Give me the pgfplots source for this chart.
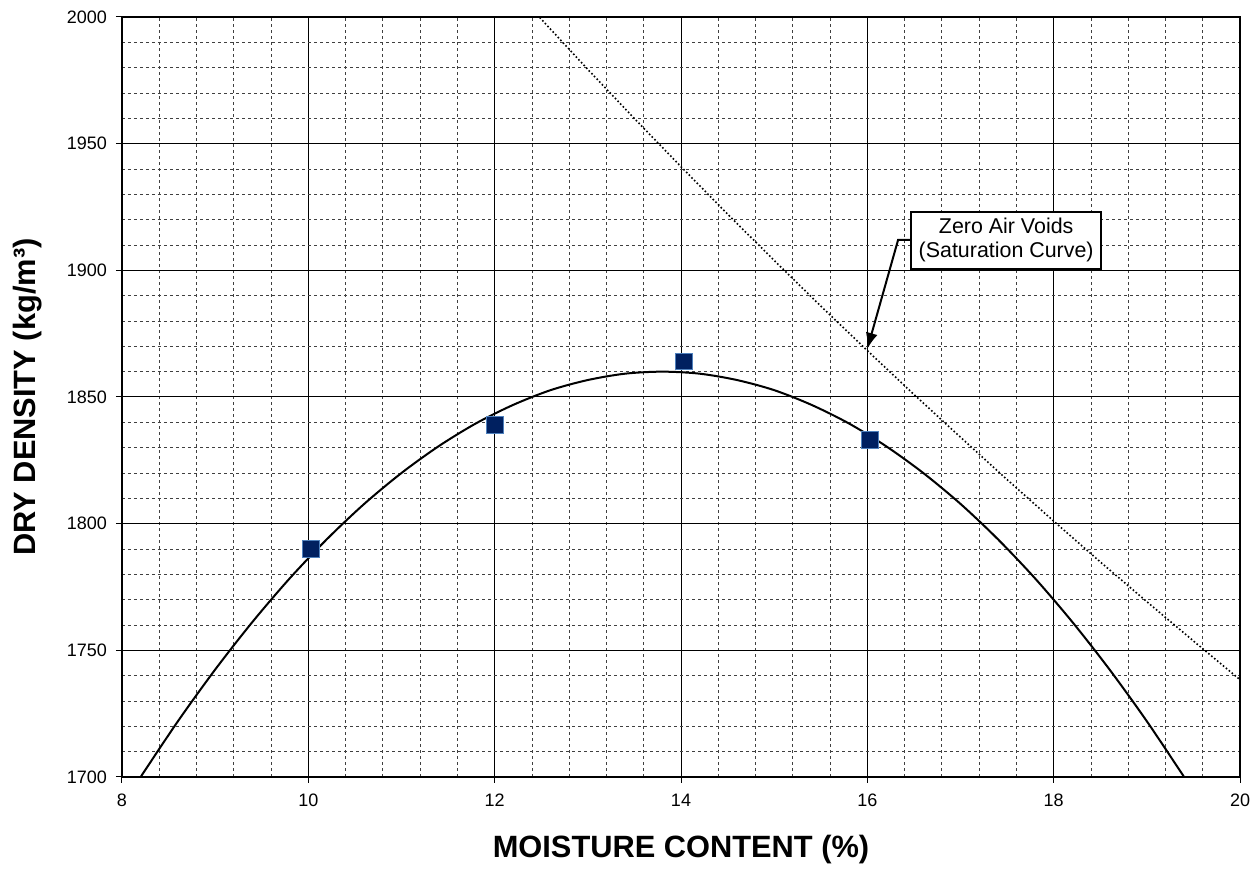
\documentclass[border=0pt]{standalone}
\usepackage{fontspec}
\setmainfont{Liberation Sans}
\usepackage{pgfplots}
\pgfplotsset{compat=1.18}
\usetikzlibrary{arrows.meta}
\definecolor{mfill}{RGB}{0,32,96}
\definecolor{medge}{RGB}{79,129,189}
\begin{document}
\begin{tikzpicture}
\useasboundingbox (-61pt,-54.5pt) rectangle (567pt,388.5pt);
\begin{axis}[
  at={(0,0)}, anchor=south west,
  scale only axis, width=559pt, height=380pt,
  xmin=8, xmax=20, ymin=1700, ymax=2000,
  xtick={8,10,...,20}, ytick={1700,1750,...,2000},
  minor x tick num=4, minor y tick num=4,
  grid=both,
  major grid style={black, line width=0.5pt},
  minor grid style={black!75, line width=0.4pt, dash pattern=on 1.5pt off 1.5pt},
  axis line style={black, line width=0.75pt},
  tick pos=left, tick align=outside,
  major tick length=3pt, minor tick length=0pt,
  tick style={black, line width=0.5pt},
  /pgf/number format/assume math mode=true,
  /pgf/number format/1000 sep={},
  ticklabel style={font=\fontsize{9}{10}\selectfont},
  xticklabel style={yshift=-2pt},
  yticklabel style={xshift=-1pt},
  xlabel={MOISTURE CONTENT (\%)},
  ylabel={DRY DENSITY (kg/m³)},
  label style={font=\fontsize{15.4}{18}\selectfont\bfseries},
  xlabel style={at={(axis description cs:0.5,0)}, anchor=center, yshift=-36.5pt},
  ylabel style={at={(axis description cs:0,0.5)}, anchor=center, yshift=47pt},
]
% zero air voids curve
\addplot[black, line width=0.8pt, dash pattern=on 0.8pt off 1.1pt] coordinates {
 (12.4,2003.1) (13.0,1979.3) (13.5,1959.9) (14.0,1940.9) (14.5,1922.2)
 (15.0,1903.9) (15.5,1885.9) (16.0,1868.3) (16.5,1851.0) (17.0,1834.1)
 (17.5,1817.4) (18.0,1801.0) (18.5,1784.9) (19.0,1769.2) (19.5,1753.7) (20.0,1738.4)
};
% fitted curve
\addplot[black, line width=1pt, smooth] coordinates {
 (8.2,1700.0) (8.6,1722.0) (9.0,1742.4) (9.4,1761.2) (9.8,1778.4)
 (10.2,1793.9) (10.6,1807.8) (11.0,1820.0) (11.4,1830.6) (11.8,1839.6)
 (12.2,1846.9) (12.6,1852.7) (13.0,1856.7) (13.4,1859.2) (13.8,1860.0)
 (14.2,1859.2) (14.6,1856.7) (15.0,1852.7) (15.4,1846.9) (15.8,1839.6)
 (16.2,1830.6) (16.6,1820.0) (17.0,1807.8) (17.4,1793.9) (17.8,1778.4)
 (18.2,1761.2) (18.6,1742.4) (19.0,1722.0) (19.4,1700.0)
};
% data points
\addplot[only marks, mark=square*, mark size=4.2pt,
  mark options={fill=mfill, draw=medge, line width=0.5pt}] coordinates {
 (10.03,1790) (12.0,1839) (14.03,1864) (16.03,1833)
};
\draw[black, line width=1pt, -{Latex[length=8pt,width=6pt]}]
  (axis cs:16.47,1912) -- (axis cs:16.33,1912) -- (axis cs:16.0,1869);
\node[draw=black, line width=1pt, fill=white, align=center,
  minimum width=95pt, minimum height=28.5pt, inner sep=1pt,
  font=\fontsize{10.7}{12}\selectfont]
  at (axis cs:17.49,1911.8) {Zero Air Voids\\(Saturation Curve)};
\end{axis}
\end{tikzpicture}
\end{document}
